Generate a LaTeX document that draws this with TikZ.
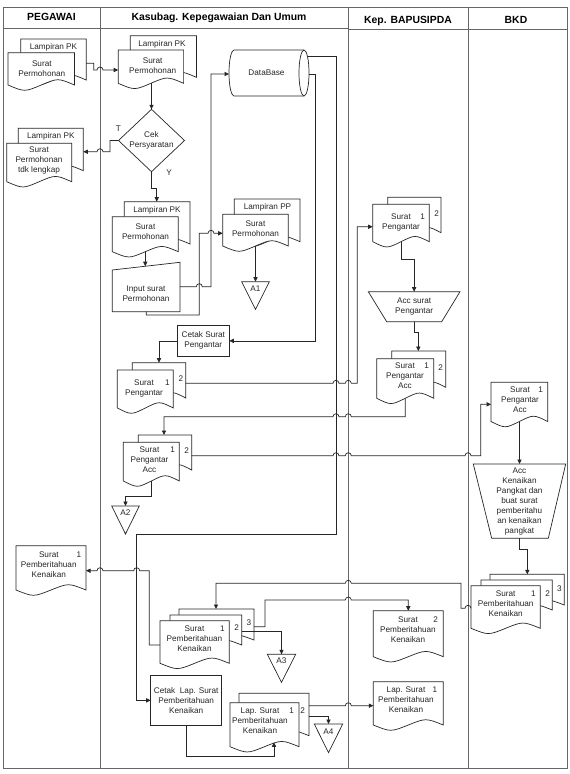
\documentclass[tikz,border=0pt]{standalone}
\usepackage{fontspec}
\setmainfont{Liberation Sans}
\usetikzlibrary{arrows.meta,calc}

\tikzset{
  shp/.style={draw=black!85, line width=0.7pt, fill=white},
  conn/.style={draw=black!85, line width=0.7pt, -{Triangle[length=4.5pt,width=4.2pt]}},
  frm/.style={draw=black!60, line width=1pt},
  ghost/.style={draw=none, inner sep=0pt, outer sep=0pt, rectangle},
  ghostt/.style={ghost, align=center, text=black!85, font=\fontsize{8.2}{10}\selectfont},
  boxt/.style={shp, inner sep=0pt, outer sep=0pt, rectangle, align=center, text=black!85, font=\fontsize{8.2}{10}\selectfont},
  txt/.style={anchor=north, align=center, inner sep=0pt, text=black!85, font=\fontsize{8.2}{10}\selectfont},
  num/.style={anchor=center, inner sep=0pt, text=black!85, font=\fontsize{8.2}{10}\selectfont, text height=5.9pt, text depth=0pt},
  hd/.style={anchor=center, inner sep=0pt, text=black, font=\fontsize{10.4}{12}\selectfont\bfseries, text height=7.4pt, text depth=0pt},
}

% name, x0, y0 (top), width, yb (bottom end of wave)
\newcommand\docshape[5]{%
  \draw[shp] (#2,#3) -- ({#2+#4},#3) -- ({#2+#4},#5)
    .. controls ({#2+0.75*#4},{#5-7}) .. ({#2+0.5*#4},#5)
    .. controls ({#2+0.25*#4},{#5+7}) .. (#2,#5) -- cycle;
  \node[ghost, minimum width={#4*1pt}, minimum height={(#5-#3)*1pt}] (#1) at ({#2+0.5*#4},{(#3+#5)/2}) {};
}
\newcommand\doctxt[4]{\node[txt] (#1) at (#2,{#3-3.2}) {#4};}
\newcommand\docnum[4]{\node[num] (#1) at (#2,#3) {#4};}

\begin{document}
\begin{tikzpicture}[x=1pt,y=-1pt]
\fill[white] (0,0) rectangle (570,774);
\useasboundingbox (0,0) rectangle (570,774);

% ---------- frame ----------
\draw[frm] (3,7) rectangle (567,768);
\draw[frm] (3,28) -- (348.3,28);
\draw[frm] (348.3,29.5) -- (567,29.5);
\draw[frm] (100,7) -- (100,768);
\draw[frm] (348.3,7) -- (348.3,768);
\draw[frm] (468,7) -- (468,768);
\node[hd] (h1) at (51.5,17) {PEGAWAI};
\node[hd] (h2) at (219,17) {Kasubag. Kepegawaian Dan Umum};
\node[hd] (h3) at (408,19.5) {Kep. BAPUSIPDA};
\node[hd] (h4) at (516,19.5) {BKD};

% ---------- PEGAWAI doc 1 ----------
\docshape{pd1b}{20.7}{39}{65.5}{80}
\docshape{pd1}{8}{52.7}{66.5}{85}
\doctxt{pd1bt}{53.5}{46.7}{Lampiran PK}
\doctxt{pd1t}{41.8}{63.3}{Surat\\Permohonan}

% ---------- Kasubag doc 1 ----------
\docshape{kd1b}{130.2}{35.7}{66.2}{77.3}
\docshape{kd1}{118.2}{50}{65.4}{83.3}
\doctxt{kd1bt}{162}{43.3}{Lampiran PK}
\doctxt{kd1t}{152.7}{61}{Surat\\Permohonan}

% ---------- DataBase ----------
\draw[shp] (304,50) -- (234,50) arc[start angle=90,end angle=270,x radius=5pt,y radius=23pt]
  -- (304,96) arc[start angle=-90,end angle=90,x radius=5pt,y radius=23pt] -- cycle;
\draw[shp, fill=none] (304,50) arc[start angle=90,end angle=270,x radius=5pt,y radius=23pt];
\node[ghostt, minimum width=75, minimum height=46] (db) at (266.5,73) {DataBase};
\coordinate (dbt) at (307.5,56.7);
\coordinate (dbr) at (309,74);

% ---------- Cek Persyaratan ----------
\draw[shp] (151.5,109.3) -- (184.5,140.5) -- (151.5,171.7) -- (118.5,140.5) -- cycle;
\node[ghostt, minimum width=66, minimum height=62.4] (cek) at (151.5,140.5) {Cek\\Persyaratan};
\node[num] (lblT) at (118.3,128.3) {T};
\node[num] (lblY) at (169,172.7) {Y};

% ---------- tdk lengkap ----------
\docshape{pd2b}{18.3}{128.3}{65}{170.7}
\docshape{pd2}{6.7}{143.3}{65}{181.7}
\doctxt{pd2bt}{50.8}{135.7}{Lampiran PK}
\doctxt{pd2t}{39}{150}{Surat\\Permohonan\\tdk lengkap}

% ---------- Kasubag doc 2 ----------
\docshape{kd2b}{124.3}{201.7}{65.7}{244}
\docshape{kd2}{112.3}{216.7}{66}{251.7}
\doctxt{kd2bt}{157}{209.3}{Lampiran PK}
\doctxt{kd2t}{145.5}{226.7}{Surat\\Permohonan}

% ---------- Input surat ----------
\draw[shp] (112.3,311.7) -- (112.3,270) -- (180,262.3) -- (180,311.7) -- cycle;
\node[ghost, minimum width=67.7, minimum height=49.4] (inp) at (146.15,287) {};
\doctxt{inpt}{146}{289.3}{Input surat\\Permohonan}
\coordinate (inptop) at (145.3,266.2);

% ---------- Lampiran PP ----------
\docshape{ppb}{234.3}{199}{65.7}{241.7}
\docshape{pp}{222.7}{214.3}{65.6}{246}
\doctxt{ppbt}{267.5}{206.7}{Lampiran PP}
\doctxt{ppt}{255.5}{224}{Surat\\Permohonan}

% ---------- A1 ----------
\node[ghost, minimum width=27.6, minimum height=27.6] (a1) at (255.5,295.5) {};
\draw[shp] (a1.north west) -- (a1.north east) -- (a1.south) -- cycle;
\docnum{a1t}{255.5}{289}{A1}

% ---------- Cetak Surat Pengantar ----------
\node[boxt, minimum width=52, minimum height=30.3] (cetak) at (203.3,340.85) {Cetak Surat\\Pengantar};

% ---------- Kasubag Surat Pengantar ----------
\docshape{sp1b}{132.3}{362.7}{53.4}{398}
\docshape{sp1}{117.3}{370}{56}{408}
\doctxt{sp1t}{144}{382.3}{Surat\\Pengantar}
\docnum{sp1n1}{167.3}{382.3}{1}
\docnum{sp1n2}{181}{378.3}{2}

% ---------- Kasubag Surat Pengantar Acc ----------
\docshape{kspab}{138.3}{435}{53.4}{470}
\docshape{kspa}{123.3}{442.3}{56}{481}
\doctxt{kspat}{149.5}{449.3}{Surat\\Pengantar\\Acc}
\docnum{kspan1}{172.7}{449.3}{1}
\docnum{kspan2}{186.7}{450.7}{2}

% ---------- A2 ----------
\node[ghost, minimum width=27.6, minimum height=28] (a2) at (125.5,520) {};
\draw[shp] (a2.north west) -- (a2.north east) -- (a2.south) -- cycle;
\docnum{a2t}{125.5}{513}{A2}

% ---------- BAPUS Surat Pengantar ----------
\docshape{bsp1b}{387.7}{197.3}{53.3}{232.7}
\docshape{bsp1}{372.7}{204.3}{56.6}{241.7}
\doctxt{bsp1t}{401}{217}{Surat\\Pengantar}
\docnum{bsp1n1}{422.7}{217}{1}
\docnum{bsp1n2}{436.7}{213.3}{2}

% ---------- Acc surat Pengantar ----------
\draw[shp] (368.3,291.7) -- (460,291.7) -- (441.7,321.7) -- (386.7,321.7) -- cycle;
\node[ghostt, minimum width=91.7, minimum height=30] (accsp) at (414.15,306.7) {Acc surat\\Pengantar};

% ---------- BAPUS Surat Pengantar Acc ----------
\docshape{bspab}{391.7}{351}{54}{387.3}
\docshape{bspa}{376.7}{358.7}{57}{398.3}
\doctxt{bspat}{405}{366}{Surat\\Pengantar\\Acc}
\docnum{bspan1}{426.7}{366}{1}
\docnum{bspan2}{440.7}{367.3}{2}

% ---------- BKD Surat Pengantar Acc ----------
\docshape{bkdspa}{491}{382.3}{56.7}{421.5}
\doctxt{bkdspat}{520}{390}{Surat\\Pengantar\\Acc}
\docnum{bkdspan1}{540.7}{390}{1}

% ---------- BKD Acc Kenaikan ----------
\draw[shp] (473.3,464) -- (565.7,464) -- (548.3,538.3) -- (491.7,538.3) -- cycle;
\node[ghostt, minimum width=92.4, minimum height=74.3] (acck) at (519.5,501.15) {Acc\\Kenaikan\\Pangkat dan\\buat surat\\pemberitahu\\an kenaikan\\pangkat};

% ---------- BKD 3-stack ----------
\docshape{bk3c}{490}{574.3}{74.3}{605}
\docshape{bk3b}{481}{580}{71.3}{610}
\docshape{bk3a}{471}{585.7}{69.3}{628.3}
\doctxt{bk3t}{505.7}{594}{Surat\\Pemberitahuan\\Kenaikan}
\docnum{bk3n1}{533.3}{594}{1}
\docnum{bk3n2}{547.7}{593.3}{2}
\docnum{bk3n3}{559.3}{588.3}{3}

% ---------- PEGAWAI Surat Pemberitahuan ----------
\docshape{pspk}{16}{545.7}{70}{590}
\doctxt{pspkt}{48.8}{554.3}{Surat\\Pemberitahuan\\Kenaikan}
\docnum{pspkn1}{79}{554.3}{1}

% ---------- Kasubag 3-stack ----------
\docshape{k3c}{179}{609}{75}{640}
\docshape{k3b}{170}{615}{71.7}{645}
\docshape{k3a}{160}{620.7}{69.3}{663.3}
\doctxt{k3t}{194.5}{629}{Surat\\Pemberitahuan\\Kenaikan}
\docnum{k3n1}{222.3}{629}{1}
\docnum{k3n2}{236.7}{628}{2}
\docnum{k3n3}{249}{622.3}{3}

% ---------- A3 ----------
\node[ghost, minimum width=28.4, minimum height=28] (a3) at (281.5,668.3) {};
\draw[shp] (a3.north west) -- (a3.north east) -- (a3.south) -- cycle;
\docnum{a3t}{281.5}{661}{A3}

% ---------- Cetak Lap ----------
\node[boxt, minimum width=71, minimum height=49.3] (cetaklap) at (186.2,700.35) {Cetak\ \ Lap. Surat\\Pemberitahuan\\Kenaikan};

% ---------- Kasubag Lap 2-stack ----------
\docshape{klapb}{239}{693.3}{70}{735.7}
\docshape{klap}{230}{702.7}{69}{746.7}
\doctxt{klapt}{260}{711}{Lap. Surat\\Pemberitahuan\\Kenaikan}
\docnum{klapn1}{291.7}{711}{1}
\docnum{klapn2}{302.7}{711}{2}
\coordinate (klapw) at (274,742.3);

% ---------- A4 ----------
\node[ghost, minimum width=28.4, minimum height=28.7] (a4) at (328.5,738.35) {};
\draw[shp] (a4.north west) -- (a4.north east) -- (a4.south) -- cycle;
\docnum{a4t}{328.5}{731.7}{A4}

% ---------- BAPUS Surat 2 ----------
\docshape{bs2}{373.3}{610.7}{70}{656.7}
\doctxt{bs2t}{408}{620}{Surat\\Pemberitahuan\\Kenaikan}
\docnum{bs2n}{435.7}{620}{2}

% ---------- BAPUS Lap ----------
\docshape{blap}{373.3}{681.7}{70}{725}
\doctxt{blapt}{406}{690}{Lap. Surat\\Pemberitahuan\\Kenaikan}
\docnum{blapn}{435}{690}{1}

% ================= connectors =================
% C1
\draw[conn] (pd1b.east |- 0,63.3) -- (93.8,63.3) -- (93.8,70) -- (97,70)
  arc[start angle=180,end angle=0,radius=3pt] -- (kd1.west |- 0,70);
% C2
\draw[conn] (cek.north |- kd1.south) -- (cek.north);
% C3
\draw[conn] (cek.west) -- (110,140.5) -- (110,151.7) -- (103,151.7)
  arc[start angle=0,end angle=180,radius=3pt] -- (pd2b.east |- 0,151.7);
% C4
\draw[conn] (cek.south) -- (151.5,188) -- (156.7,188) -- (156.7,0 |- kd2b.north);
% C5
\draw[conn] (kd2.south) -- (inptop);
% C6
\draw[conn] (inp.east |- 0,286.7) -- (196.3,286.7)
  arc[start angle=180,end angle=0,radius=3pt] -- (211,286.7) -- (211,74) -- (db.west |- 0,74);
% C7
\draw[conn] (inp.south) -- (inp.south |- 0,315) -- (199.3,315) -- (199.3,233.3) -- (208,233.3)
  arc[start angle=180,end angle=0,radius=3pt] -- (pp.west |- 0,233.3);
% C8
\draw[conn] (pp.south) -- (a1.north);
% C9
\draw[conn] (dbr) -- (315,74) -- (315,340.85) -- (cetak.east);
% C10
\draw[conn] (dbt) -- (336,56.7) -- (336,534.7) -- (136.7,534.7) -- (136.7,700.35) -- (cetaklap.west);
% C11
\draw[conn] (cetak.west) -- (159,340.85) -- (159,0 |- sp1b.north);
% C12
\draw[conn] (sp1b.east |- 0,383.3) -- (333,383.3)
  arc[start angle=180,end angle=0,radius=3pt] -- (345.3,383.3)
  arc[start angle=180,end angle=0,radius=3pt] -- (357.3,383.3) -- (357.3,226.7) -- (bsp1.west |- 0,226.7);
% C13
\draw[conn] (bsp1.south) -- (bsp1.south |- 0,259.3) -- (414.15,259.3) -- (accsp.north);
% C14
\draw[conn] (accsp.south) -- (414.15,332.3) -- (418.3,332.3) -- (418.3,0 |- bspab.north);
% C15
\draw[conn] (bspa.south) -- (bspa.south |- 0,416.7) -- (351.3,416.7)
  arc[start angle=0,end angle=180,radius=3pt] -- (339,416.7)
  arc[start angle=0,end angle=180,radius=3pt] -- (164,416.7) -- (164,0 |- kspab.north);
% C16
\draw[conn] (kspab.east |- 0,455.7) -- (333,455.7)
  arc[start angle=180,end angle=0,radius=3pt] -- (345.3,455.7)
  arc[start angle=180,end angle=0,radius=3pt] -- (465,455.7)
  arc[start angle=180,end angle=0,radius=3pt] -- (480.7,455.7) -- (480.7,404.3) -- (bkdspa.west |- 0,404.3);
% C17
\draw[conn] (kspa.south) -- (kspa.south |- 0,496.7) -- (125.5,496.7) -- (a2.north);
% C18
\draw[conn] (acck.north |- bkdspa.south) -- (acck.north);
% C19
\draw[conn] (acck.south) -- (519.5,549.3) -- (527.3,549.3) -- (527.3,0 |- bk3c.north);
% C20
\draw[conn] (bk3a.west |- 0,608.3) arc[start angle=0,end angle=180,radius=3pt] -- (461,608.3) -- (461,583.3)
  -- (351.3,583.3) arc[start angle=0,end angle=180,radius=3pt] -- (216,583.3) -- (216,0 |- k3c.north);
% C21
\draw[conn] (k3c.east |- 0,626.7) -- (265,626.7) -- (265,600) -- (345.3,600)
  arc[start angle=180,end angle=0,radius=3pt] -- (bs2.north |- 0,600) -- (bs2.north);
% C22
\draw[conn] (k3b.east |- 0,631.7) -- (281.5,631.7) -- (a3.north);
% C23
\draw[conn] (k3a.west |- 0,645) -- (149.3,645) -- (149.3,570.7) -- (139.7,570.7)
  arc[start angle=0,end angle=180,radius=3pt] -- (103,570.7)
  arc[start angle=0,end angle=180,radius=3pt] -- (pspk.east |- 0,570.7);
% C24
\draw[conn] (cetaklap.south) -- (186.2,756.5) -- (274,756.5) -- (klapw);
% C25
\draw[conn] (klapb.east |- 0,705.7) -- (345.3,705.7)
  arc[start angle=180,end angle=0,radius=3pt] -- (blap.west |- 0,705.7);
% C26
\draw[conn] (klapb.east |- 0,716.7) -- (328.5,716.7) -- (a4.north);
\end{tikzpicture}
\end{document}
